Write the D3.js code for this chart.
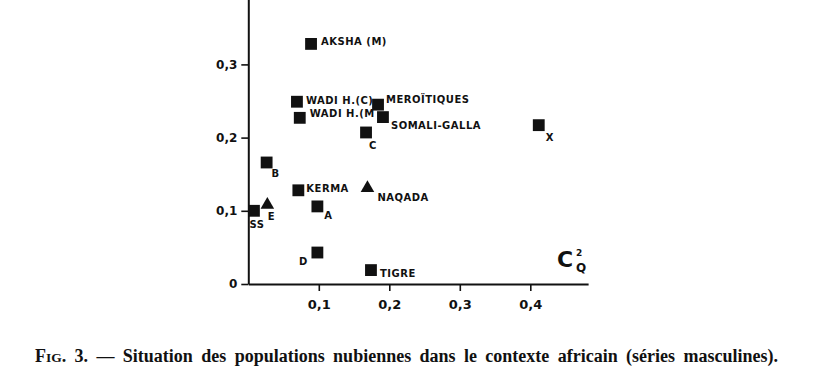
<!DOCTYPE html>
<html>
<head>
<meta charset="utf-8">
<script src="https://cdn.jsdelivr.net/npm/d3@7/dist/d3.min.js"></script>
<style>
  html, body { margin: 0; padding: 0; background: #fff; }
  svg { display: block; }
</style>
</head>
<body>
<svg id="chart" width="834" height="391"></svg>
<script>
// ---- data ----
const populations = ["AKSHA (M)", "WADI H.(C)", "WADI H.(M", "MEROÏTIQUES", "SOMALI-GALLA", "C", "X", "B", "KERMA", "NAQADA", "SS", "E", "A", "D", "TIGRE"];
const cValues    = [0.089, 0.069, 0.073, 0.184, 0.191, 0.167, 0.412, 0.026, 0.071, 0.169, 0.008, 0.027, 0.098, 0.098, 0.174];
const qValues    = [0.328, 0.249, 0.227, 0.245, 0.228, 0.207, 0.217, 0.166, 0.128, 0.131, 0.100, 0.108, 0.106, 0.043, 0.019];
const markerType = ["square", "square", "square", "square", "square", "square", "square", "square", "square", "triangle", "square", "triangle", "square", "square", "square"];
const xTicks = [0.1, 0.2, 0.3, 0.4];
const yTicks = [0, 0.1, 0.2, 0.3];
const caption = "— Situation des populations nubiennes dans le contexte africain (séries masculines).";

// ---- layout (label placement relative to marker) ----
const labelLayout = {
  "AKSHA (M)":    {dx: 10, dy: -2, anchor: "start"},
  "WADI H.(C)":   {dx: 9,  dy: -1, anchor: "start"},
  "WADI H.(M":    {dx: 10, dy: -4, anchor: "start"},
  "MEROÏTIQUES":  {dx: 8,  dy: -5, anchor: "start"},
  "SOMALI-GALLA": {dx: 8,  dy: 8,  anchor: "start"},
  "C":            {dx: 7,  dy: 13, anchor: "middle"},
  "X":            {dx: 11, dy: 12, anchor: "middle"},
  "B":            {dx: 9,  dy: 11, anchor: "middle"},
  "KERMA":        {dx: 8,  dy: -2, anchor: "start"},
  "NAQADA":       {dx: 10, dy: 9,  anchor: "start"},
  "SS":           {dx: 3,  dy: 14, anchor: "middle"},
  "E":            {dx: 4,  dy: 12, anchor: "middle"},
  "A":            {dx: 11, dy: 9,  anchor: "middle"},
  "D":            {dx: -14, dy: 9, anchor: "middle"},
  "TIGRE":        {dx: 9,  dy: 3,  anchor: "start"}
};

const svg = d3.select("#chart");
const x0 = 248.3, y0 = 284, pxPerX = 705, pxPerY = 732;
const x = d3.scaleLinear().domain([0, 0.482]).range([x0, x0 + 0.482 * pxPerX]);
const y = d3.scaleLinear().domain([0, 0.41]).range([y0, y0 - 0.41 * pxPerY]);

const fmt = v => v === 0 ? "0" : d3.format(".1f")(v).replace(".", ",");
const sans = "'DejaVu Sans', sans-serif";

// x axis
const gx = svg.append("g").attr("transform", `translate(0,${y0})`)
  .call(d3.axisBottom(x).tickValues(xTicks).tickFormat(fmt).tickSize(7).tickSizeOuter(0).tickPadding(9));
gx.select(".domain").attr("stroke", "#111").attr("stroke-width", 2);
gx.selectAll(".tick line").attr("stroke", "#111").attr("stroke-width", 1.6);
gx.selectAll(".tick text").attr("font-family", sans).attr("font-weight", "bold").attr("font-size", 13).attr("fill", "#111");

// y axis
const gy = svg.append("g").attr("transform", `translate(${x0},0)`)
  .call(d3.axisLeft(y).tickValues(yTicks).tickFormat(fmt).tickSize(7).tickSizeOuter(0).tickPadding(4));
gy.select(".domain").attr("stroke", "#111").attr("stroke-width", 2);
gy.selectAll(".tick line").attr("stroke", "#111").attr("stroke-width", 1.6);
gy.selectAll(".tick text").attr("font-family", sans).attr("font-weight", "bold").attr("font-size", 12).attr("fill", "#111");

// data points
const data = populations.map((p, i) => ({name: p, c: cValues[i], q: qValues[i], type: markerType[i]}));
const sq = d3.symbol().type(d3.symbolSquare).size(140);
const tri = d3.symbol().type(d3.symbolTriangle).size(80);

const pts = svg.append("g").selectAll("g").data(data).join("g")
  .attr("transform", d => `translate(${x(d.c)},${y(d.q)})`);
pts.append("path")
  .attr("d", d => d.type === "square" ? sq() : tri())
  .attr("fill", "#111");
pts.append("text")
  .attr("x", d => labelLayout[d.name].dx)
  .attr("y", d => labelLayout[d.name].dy)
  .attr("text-anchor", d => labelLayout[d.name].anchor)
  .attr("dominant-baseline", "central")
  .attr("font-family", sans).attr("font-weight", "bold").attr("font-size", 10)
  .attr("letter-spacing", 0.5)
  .attr("fill", "#111")
  .text(d => d.name);

// axis title C²_Q
const t = svg.append("text").attr("x", 557).attr("y", 267)
  .attr("font-family", sans).attr("font-weight", "bold").attr("fill", "#111");
t.append("tspan").attr("font-size", 22).text("C");
t.append("tspan").attr("font-size", 9).attr("x", 576).attr("y", 256).text("2");
t.append("tspan").attr("font-size", 12).attr("x", 576).attr("y", 272).text("Q");

// caption
const cap = svg.append("text").attr("x", 778).attr("y", 362)
  .attr("text-anchor", "end")
  .attr("font-family", "'Liberation Serif', 'Times New Roman', serif")
  .attr("font-weight", "bold").attr("fill", "#111").attr("font-size", 18)
  .attr("word-spacing", 3.9);
cap.append("tspan").text("F");
cap.append("tspan").attr("font-size", 13.5).text("IG");
cap.append("tspan").text(". 3. " + caption);
</script>
</body>
</html>
